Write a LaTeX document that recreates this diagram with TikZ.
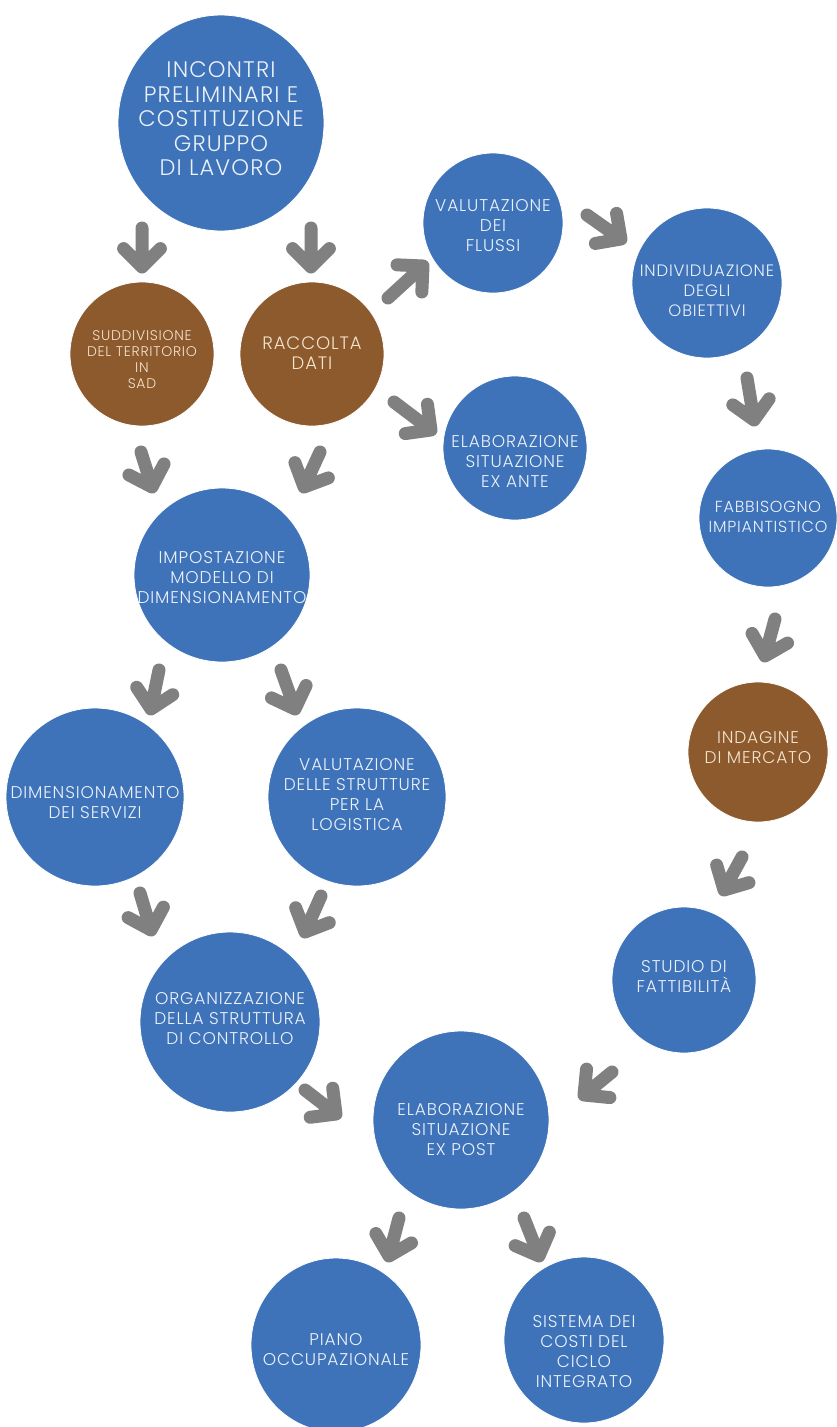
\documentclass[tikz,border=0pt]{standalone}
\usepackage{fontspec}
\setmainfont{Poppins}
\newfontfamily\lsfont{Poppins Light}[LetterSpace=5]
\usetikzlibrary{calc,shapes.geometric}
\definecolor{bblue}{RGB}{62,115,185}
\definecolor{bbrown}{RGB}{140,90,44}
\definecolor{agray}{RGB}{128,128,128}
\definecolor{txtw}{RGB}{236,241,250}
\definecolor{txtc}{RGB}{244,228,208}
\newcommand\garrow[2]{\draw[garr] ($(#2)!26pt!45:(#1)$) -- (#2) -- ($(#2)!26pt!-45:(#1)$) (#1) -- (#2);}
\begin{document}
\begin{tikzpicture}[x=1pt,y=-1pt,
  bub/.style={ellipse, fill=bblue, draw=white, line width=0.8pt, inner sep=0pt},
  brownbub/.style={bub, fill=bbrown},
  lbl/.style={align=center, text=txtw, font=\lsfont\fontsize{17}{20}\selectfont, inner sep=0pt},
  blbl/.style={lbl, text=txtc},
  garr/.style={draw=agray, line width=13pt, line cap=round, line join=round}]
\fill[white] (0,0) rectangle (837,1427);
\useasboundingbox (0,0) rectangle (837,1427);

% circles
\node[bub, minimum width=206pt, minimum height=216pt] (inc) at (221,123) {};
\node[brownbub, minimum width=144pt, minimum height=144pt] (sud) at (142,354) {};
\node[brownbub, minimum width=144pt, minimum height=144pt] (rac) at (312,354) {};
\node[bub, minimum width=140pt, minimum height=140pt] (flu) at (493,223) {};
\node[bub, minimum width=150pt, minimum height=150pt] (ind) at (707,283) {};
\node[bub, minimum width=144pt, minimum height=144pt] (exa) at (515,448) {};
\node[bub, minimum width=138pt, minimum height=138pt] (fab) at (768,518) {};
\node[bub, minimum width=176pt, minimum height=174pt] (imp) at (222,575) {};
\node[bub, minimum width=178pt, minimum height=178pt] (dim) at (95,797) {};
\node[bub, minimum width=178pt, minimum height=178pt] (str) at (357,797) {};
\node[brownbub, minimum width=140pt, minimum height=140pt] (idg) at (758,752) {};
\node[bub, minimum width=180pt, minimum height=180pt] (org) at (230,1022) {};
\node[bub, minimum width=144pt, minimum height=146pt] (stu) at (684,980) {};
\node[bub, minimum width=176pt, minimum height=178pt] (exp) at (461,1120) {};
\node[bub, minimum width=170pt, minimum height=174pt] (pia) at (336,1345) {};
\node[bub, minimum width=160pt, minimum height=166pt] (sis) at (584,1340) {};

% texts
\node[lbl, font=\lsfont\fontsize{22.5}{24.5}\selectfont] (incT) at (221,119) {INCONTRI\\PRELIMINARI E\\COSTITUZIONE\\GRUPPO\\DI LAVORO};
\node[blbl, font=\lsfont\fontsize{14}{16}\selectfont] (sudT) at (142,360) {SUDDIVISIONE\\DEL TERRITORIO\\IN\\SAD};
\node[blbl, font=\lsfont\fontsize{18}{20}\selectfont] (racT) at (312,353) {RACCOLTA\\DATI};
\node[lbl] (fluT) at (493,226) {VALUTAZIONE\\DEI\\FLUSSI};
\node[lbl, font=\lsfont\fontsize{16.5}{20}\selectfont] (indT) at (707,291) {INDIVIDUAZIONE\\DEGLI\\OBIETTIVI};
\node[lbl] (exaT) at (515,461) {ELABORAZIONE\\SITUAZIONE\\EX ANTE};
\node[lbl, font=\lsfont\fontsize{16}{20}\selectfont] (fabT) at (768,517) {FABBISOGNO\\IMPIANTISTICO};
\node[lbl] (impT) at (222,578) {IMPOSTAZIONE\\MODELLO DI\\DIMENSIONAMENTO};
\node[lbl] (dimT) at (95,803) {DIMENSIONAMENTO\\DEI SERVIZI};
\node[lbl] (strT) at (357,795) {VALUTAZIONE\\DELLE STRUTTURE\\PER LA\\LOGISTICA};
\node[blbl] (idgT) at (758,748) {INDAGINE\\DI MERCATO};
\node[lbl] (orgT) at (230,1019) {ORGANIZZAZIONE\\DELLA STRUTTURA\\DI CONTROLLO};
\node[lbl] (stuT) at (684,976) {STUDIO DI\\FATTIBILITÀ};
\node[lbl] (expT) at (461,1130) {ELABORAZIONE\\SITUAZIONE\\EX POST};
\node[lbl] (piaT) at (336,1350) {PIANO\\OCCUPAZIONALE};
\node[lbl] (sisT) at (584,1352) {SISTEMA DEI\\COSTI DEL\\CICLO\\INTEGRATO};

% arrow end points
\coordinate (a1t) at (142,228); \coordinate (a1h) at (142,267);
\coordinate (a2t) at (311,228); \coordinate (a2h) at (311,267);
\coordinate (a3t) at (388,298); \coordinate (a3h) at (423,266);
\coordinate (a4t) at (587,215); \coordinate (a4h) at (621,239);
\coordinate (a5t) at (394,402); \coordinate (a5h) at (431,430);
\coordinate (a6t) at (747,378); \coordinate (a6h) at (754,420);
\coordinate (a7t) at (141,452); \coordinate (a7h) at (152,487);
\coordinate (a8t) at (320,452); \coordinate (a8h) at (304,487);
\coordinate (a9t) at (159,670); \coordinate (a9h) at (151,709);
\coordinate (a10t) at (281,670); \coordinate (a10h) at (295,709);
\coordinate (a11t) at (775,619); \coordinate (a11h) at (765,656);
\coordinate (a12t) at (140,893); \coordinate (a12h) at (151,930);
\coordinate (a13t) at (321,896); \coordinate (a13h) at (305,932);
\coordinate (a14t) at (742,857); \coordinate (a14h) at (724,890);
\coordinate (a15t) at (612,1072); \coordinate (a15h) at (584,1095);
\coordinate (a16t) at (305,1090); \coordinate (a16h) at (336,1114);
\coordinate (a17t) at (399,1218); \coordinate (a17h) at (389,1256);
\coordinate (a18t) at (524,1218); \coordinate (a18h) at (539,1256);

\garrow{a1t}{a1h}
\garrow{a2t}{a2h}
\garrow{a3t}{a3h}
\garrow{a4t}{a4h}
\garrow{a5t}{a5h}
\garrow{a6t}{a6h}
\garrow{a7t}{a7h}
\garrow{a8t}{a8h}
\garrow{a9t}{a9h}
\garrow{a10t}{a10h}
\garrow{a11t}{a11h}
\garrow{a12t}{a12h}
\garrow{a13t}{a13h}
\garrow{a14t}{a14h}
\garrow{a15t}{a15h}
\garrow{a16t}{a16h}
\garrow{a17t}{a17h}
\garrow{a18t}{a18h}
\end{tikzpicture}
\end{document}
